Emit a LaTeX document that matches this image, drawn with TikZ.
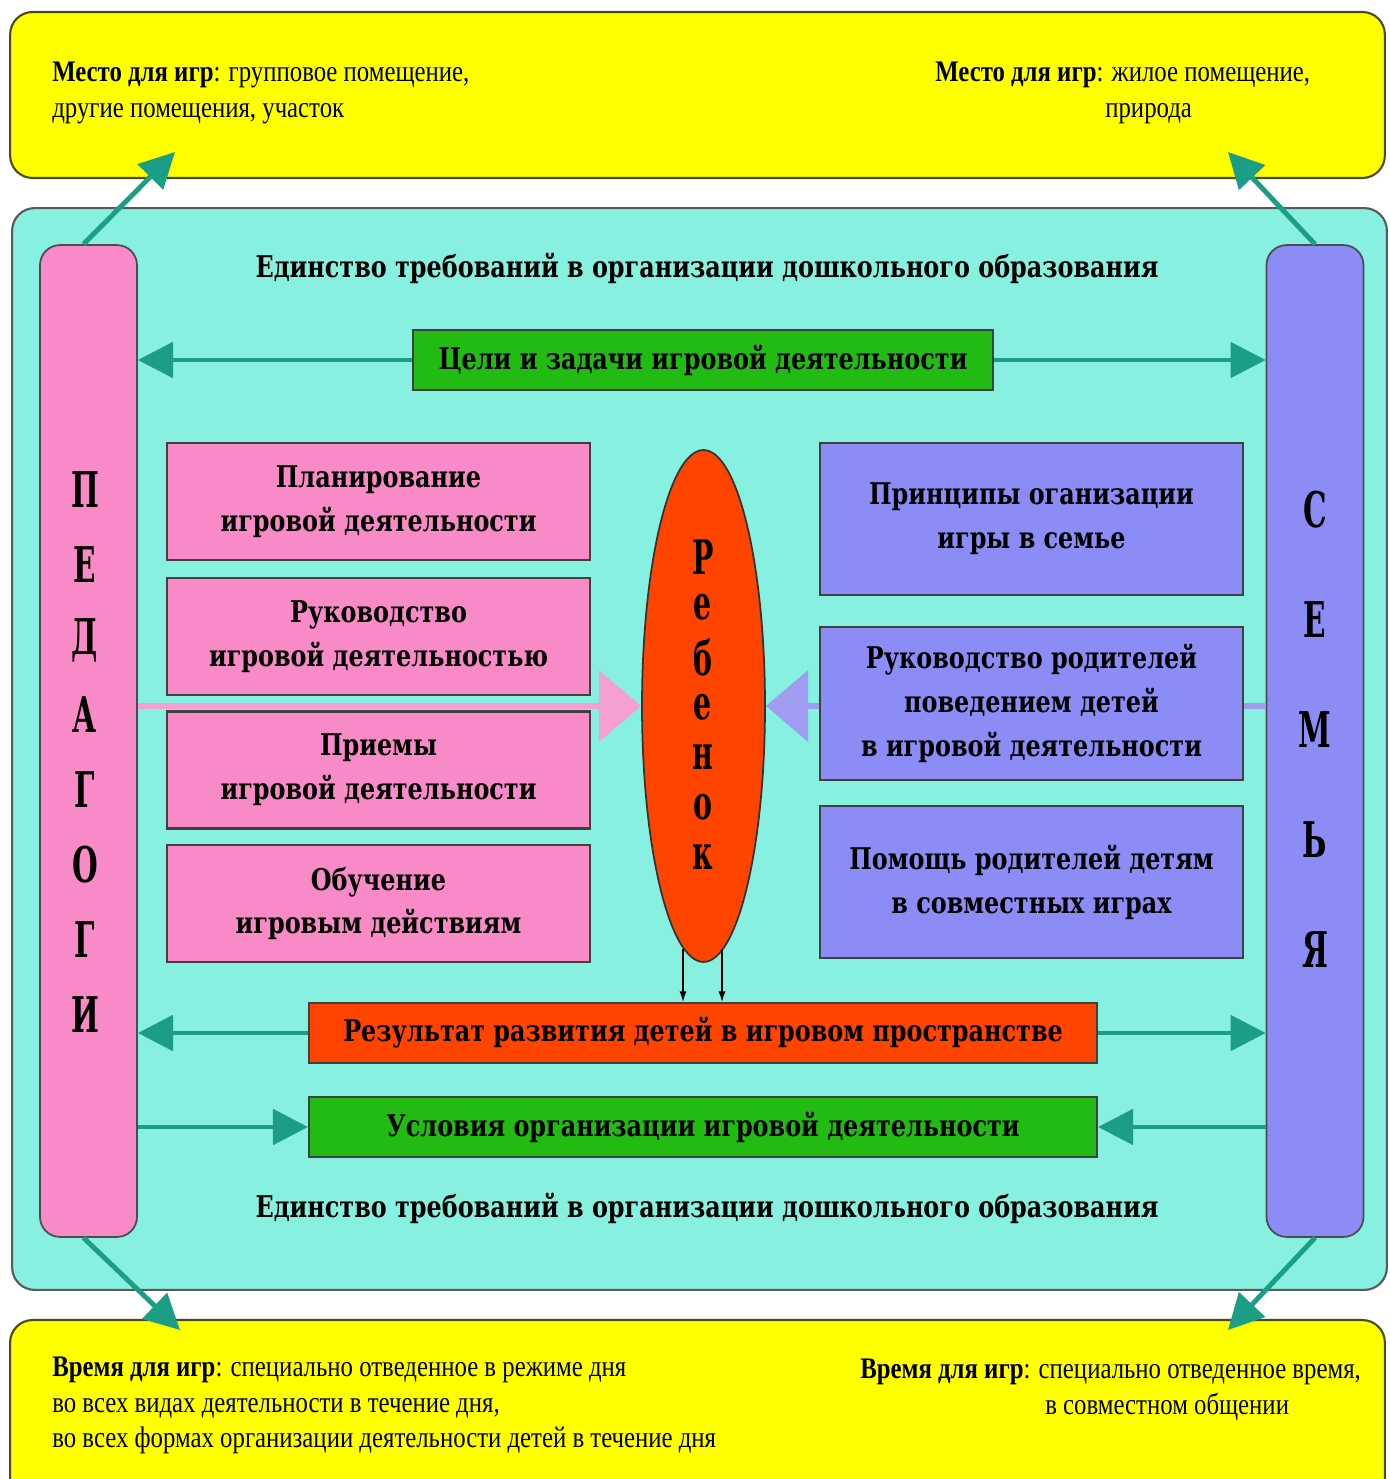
\documentclass[tikz,border=0pt]{standalone}
\usepackage{fontspec}
\usepackage{graphicx}
\setmainfont{Liberation Serif}
\newfontfamily\labelfont[FakeStretch=0.8]{DejaVu Serif}
\newfontfamily\letterfont[FakeStretch=0.6]{DejaVu Serif}
\newfontfamily\notefont[FakeStretch=0.83]{Liberation Serif}
\usetikzlibrary{arrows.meta,shapes.geometric}
\definecolor{sunyellow}{HTML}{FFFF00}
\definecolor{fieldcyan}{HTML}{88F0E0}
\definecolor{pedpink}{HTML}{F88AC8}
\definecolor{fampurple}{HTML}{8C8CF6}
\definecolor{goalgreen}{HTML}{22BB14}
\definecolor{childred}{HTML}{FF4400}
\definecolor{tealarrow}{HTML}{1C9E86}
\definecolor{pinkarrow}{HTML}{F5A0D2}
\definecolor{purplearrow}{HTML}{A09CF2}
\definecolor{oliveline}{HTML}{4A4A20}
\begin{document}
\begin{tikzpicture}[x=0.02cm,y=-0.02cm,
  panel/.style={line width=1.2pt,rounded corners=0.45cm,minimum width=27.5cm},
  bar/.style={draw=black!70,line width=1pt,rounded corners=0.4cm,minimum width=1.94cm,minimum height=19.84cm},
  box/.style={draw=black!75,line width=1.2pt,minimum width=8.46cm,align=center,
    font=\labelfont\bfseries\fontsize{17}{25}\selectfont},
  strip/.style={draw=black!75,line width=1.2pt,minimum height=1.2cm,
    font=\labelfont\bfseries\fontsize{17}{25}\selectfont},
  title/.style={font=\labelfont\bfseries\fontsize{17}{25}\selectfont},
  letter/.style={font=\letterfont\bfseries\fontsize{28}{28}\selectfont,inner sep=0},
  note/.style={anchor=north west,inner sep=0,align=left,font=\notefont\fontsize{17}{20}\selectfont},
  tarr/.style={draw=tealarrow,line width=2.8pt,-{Triangle[length=20pt,width=20pt]}},
  barr/.style={draw=black,line width=0.8pt,-{Latex[length=6pt,width=4pt]}}]
\useasboundingbox (0,0) rectangle (1389,1479);
% the three panels
\node[panel,draw=oliveline,fill=sunyellow,minimum height=3.32cm] (toppanel) at (697.5,95) {};
\node[panel,draw=black!65,fill=fieldcyan,minimum height=21.64cm] (field) at (699.5,749) {};
\node[panel,draw=oliveline,fill=sunyellow,minimum height=3.8cm] (botpanel) at (697.5,1415) {};
% texts in the yellow panels
\node[note] (placeped) at (52,62) {\textbf{Место для игр}: групповое помещение,\\другие помещения, участок};
\node[note] (placefam) at (935,62) {\textbf{Место для игр}: жилое помещение,\\\hspace*{3.4cm}природа};
\node[note] (timeped) at (52,1357) {\textbf{Время для игр}: специально отведенное в режиме дня\\во всех видах деятельности в течение дня,\\во всех формах организации деятельности детей в течение дня};
\node[note] (timefam) at (860,1359) {\textbf{Время для игр}: специально отведенное время,\\\hspace*{3.7cm}в совместном общении};
% the two sides
\node[bar,fill=pedpink] (ped) at (88.5,741) {};
\node[bar,fill=fampurple] (fam) at (1315,741) {};
\foreach \l [count=\i] in {П,Е,Д,А,Г,О,Г,И}
  \node[letter] (p\i) at (85,415+75*\i) {\l};
\foreach \l [count=\i] in {С,Е,М,Ь,Я}
  \node[letter] (s\i) at (1315,400+110*\i) {\l};
\node[title] (unitytop) at (707,268) {Единство требований в организации дошкольного образования};
\node[title] (unitybot) at (707,1208) {Единство требований в организации дошкольного образования};
% the child in the middle
\node[ellipse,draw=black!80,line width=1pt,fill=childred,minimum width=2.46cm,minimum height=10.24cm,inner sep=0] (child) at (703.5,706) {};
\foreach \l [count=\i] in {Р,е,б,е,н,о,к}
  \node[letter,font=\letterfont\bfseries\fontsize{27}{27}\selectfont] (c\i) at (703,507+50*\i) {\l};
% big arrows into the child, behind the boxes
\draw[draw=pinkarrow,line width=3.4pt,-{Triangle[length=24pt,width=40pt]}] (ped.east |- child.west) -- (child.west);
\draw[draw=purplearrow,line width=3.4pt,-{Triangle[length=24pt,width=40pt]}] (fam.west |- child.east) -- (child.east);
% left boxes
\node[box,fill=pedpink,minimum height=2.34cm] (plan) at (378.5,501.5) {Планирование\\игровой деятельности};
\node[box,fill=pedpink,minimum height=2.34cm] (lead) at (378.5,636.5) {Руководство\\игровой деятельностью};
\node[box,fill=pedpink,minimum height=2.34cm] (ways) at (378.5,770) {Приемы\\игровой деятельности};
\node[box,fill=pedpink,minimum height=2.34cm] (teach) at (378.5,903.5) {Обучение\\игровым действиям};
% right boxes
\node[box,fill=fampurple,minimum height=3.04cm] (rules) at (1031.5,519) {Принципы оганизации\\игры в семье};
\node[box,fill=fampurple,minimum height=3.06cm] (parents) at (1031.5,703.5) {Руководство родителей\\поведением детей\\в игровой деятельности};
\node[box,fill=fampurple,minimum height=3.04cm] (help) at (1031.5,882) {Помощь родителей детям\\в совместных играх};
% strips across
\node[strip,fill=goalgreen,minimum width=11.6cm] (goals) at (703,360) {Цели и задачи игровой деятельности};
\node[strip,fill=childred,minimum width=15.76cm] (result) at (703,1033) {Результат развития детей в игровом пространстве};
\node[strip,fill=goalgreen,minimum width=15.76cm] (cond) at (703,1127) {Условия организации игровой деятельности};
% child to result
\draw[barr] ([xshift=-0.41cm,yshift=0.28cm]child.south) -- ([xshift=-0.41cm]child.south |- result.north);
\draw[barr] ([xshift=0.37cm,yshift=0.28cm]child.south) -- ([xshift=0.37cm]child.south |- result.north);
% teal arrows
\draw[tarr] (goals.west) -- (goals.west -| ped.east);
\draw[tarr] (goals.east) -- (goals.east -| fam.west);
\draw[tarr] (result.west) -- (result.west -| ped.east);
\draw[tarr] (result.east) -- (result.east -| fam.west);
\draw[tarr] (cond.west -| ped.east) -- (cond.west);
\draw[tarr] (cond.east -| fam.west) -- (cond.east);
% out to the yellow panels
\coordinate (tlend) at (175,152);
\coordinate (trend) at (1228,152);
\coordinate (blend) at (180,1330);
\coordinate (brend) at (1228,1330);
\draw[tarr] ([xshift=-0.1cm]ped.north) -- (tlend);
\draw[tarr] (fam.north) -- (trend);
\draw[tarr] ([xshift=-0.1cm]ped.south) -- (blend);
\draw[tarr] (fam.south) -- (brend);
\end{tikzpicture}
\end{document}
